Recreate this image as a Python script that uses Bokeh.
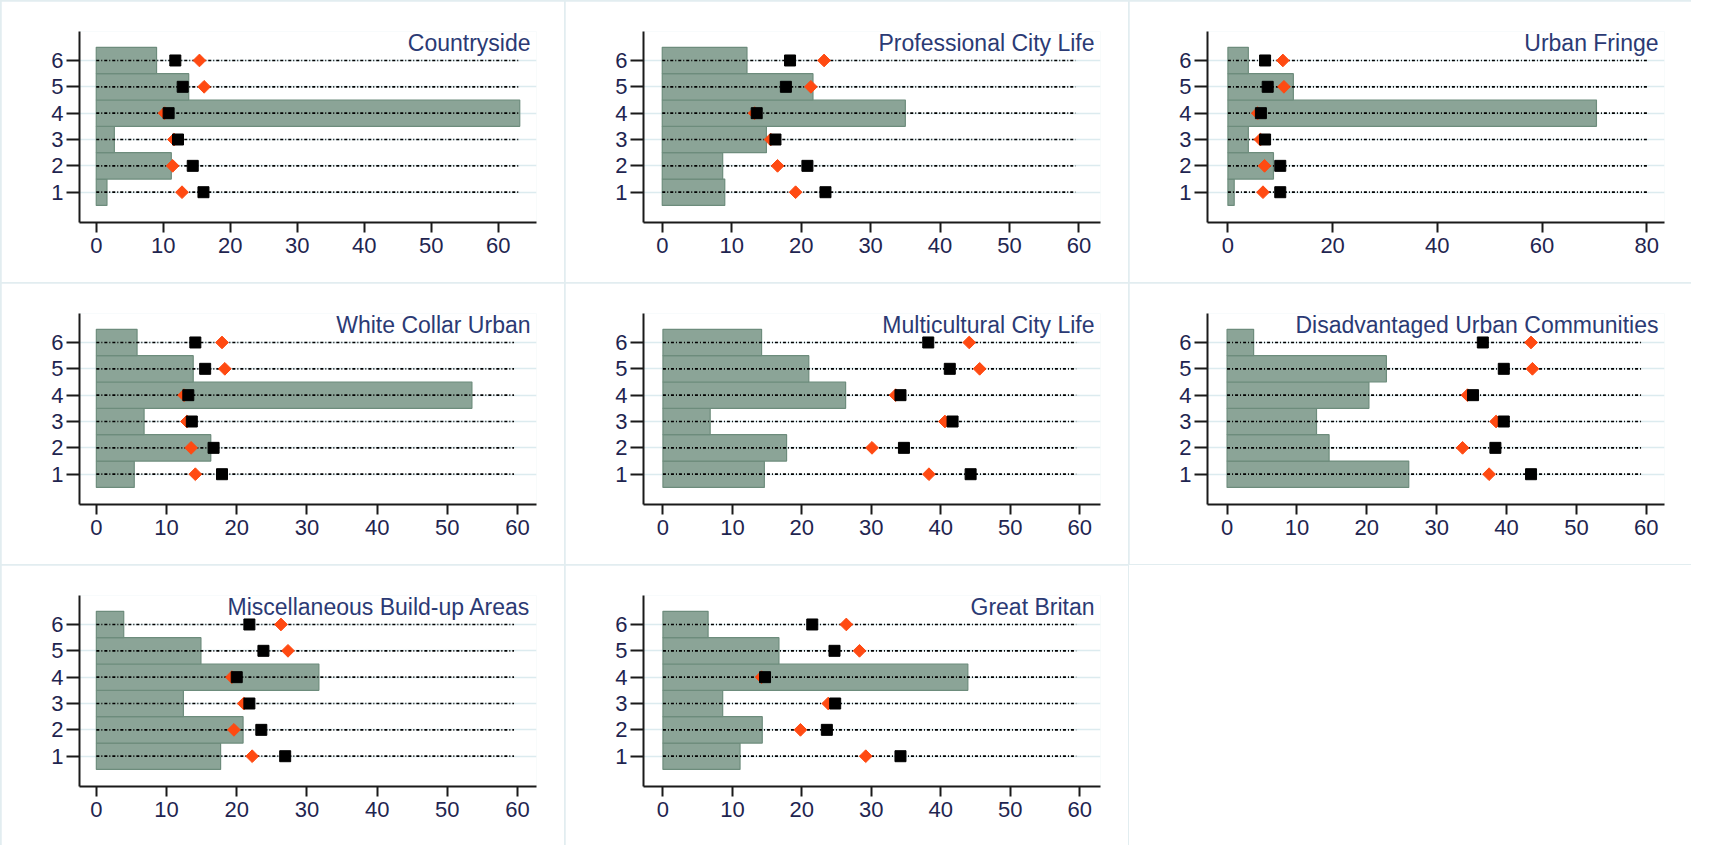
import math
from bokeh.plotting import figure
from bokeh.models import (Range1d, FixedTicker, Label, GridPlot, Spacer, ColumnDataSource)
from bokeh.embed import file_html
from bokeh.resources import INLINE

# ---------------- data ----------------
categories = [1, 2, 3, 4, 5, 6]

titles = ["Countryside", "Professional City Life", "Urban Fringe",
          "White Collar Urban", "Multicultural City Life",
          "Disadvantaged Urban Communities", "Miscellaneous Build-up Areas",
          "Great Britan"]

countryside_bar = [1.6, 11.2, 2.7, 63.2, 13.8, 9.0]
countryside_sq = [16.0, 14.4, 12.2, 10.8, 12.9, 11.8]
countryside_dm = [12.8, 11.4, 11.6, 10.2, 16.1, 15.4]

professional_bar = [9.0, 8.7, 15.0, 35.0, 21.7, 12.2]
professional_sq = [23.5, 20.9, 16.3, 13.6, 17.8, 18.4]
professional_dm = [19.2, 16.6, 15.6, 13.3, 21.4, 23.3]

fringe_bar = [1.2, 8.7, 3.9, 70.4, 12.5, 3.9]
fringe_sq = [10.0, 10.0, 7.1, 6.3, 7.6, 7.1]
fringe_dm = [6.7, 7.0, 6.2, 5.7, 10.7, 10.5]

whitecollar_bar = [5.4, 16.3, 6.8, 53.5, 13.8, 5.8]
whitecollar_sq = [17.9, 16.7, 13.6, 13.1, 15.5, 14.1]
whitecollar_dm = [14.1, 13.5, 12.9, 12.5, 18.3, 17.9]

multicultural_bar = [14.6, 17.8, 6.8, 26.3, 21.0, 14.2]
multicultural_sq = [44.3, 34.7, 41.7, 34.2, 41.3, 38.2]
multicultural_dm = [38.3, 30.1, 40.6, 33.5, 45.6, 44.1]

disadvantaged_bar = [26.0, 14.6, 12.8, 20.3, 22.8, 3.8]
disadvantaged_sq = [43.5, 38.4, 39.6, 35.2, 39.6, 36.6]
disadvantaged_dm = [37.5, 33.7, 38.5, 34.4, 43.7, 43.5]

misc_bar = [17.7, 20.9, 12.4, 31.7, 14.9, 3.9]
misc_sq = [26.9, 23.5, 21.8, 20.0, 23.8, 21.8]
misc_dm = [22.2, 19.6, 21.0, 19.3, 27.3, 26.3]

gb_bar = [11.1, 14.3, 8.6, 43.9, 16.7, 6.5]
gb_sq = [34.2, 23.6, 24.8, 14.7, 24.7, 21.5]
gb_dm = [29.2, 19.8, 23.8, 14.2, 28.3, 26.4]

line_end = [63.2, 59.5, 80.2, 59.5, 59.5, 59.4, 59.5, 59.5]

x_ticks_60 = [0, 10, 20, 30, 40, 50, 60]
x_ticks_80 = [0, 20, 40, 60, 80]

# ---------------- layout / style ----------------
bars = [countryside_bar, professional_bar, fringe_bar, whitecollar_bar,
        multicultural_bar, disadvantaged_bar, misc_bar, gb_bar]
squares = [countryside_sq, professional_sq, fringe_sq, whitecollar_sq,
           multicultural_sq, disadvantaged_sq, misc_sq, gb_sq]
diamonds = [countryside_dm, professional_dm, fringe_dm, whitecollar_dm,
            multicultural_dm, disadvantaged_dm, misc_dm, gb_dm]
x_ranges = [(-2.5, 65.7), (-2.7, 63.1), (-3.9, 83.4), (-2.4, 62.7),
            (-2.8, 63.0), (-2.8, 62.6), (-2.4, 62.7), (-2.8, 63.0)]
x_tick_sets = [x_ticks_60, x_ticks_60, x_ticks_80, x_ticks_60,
               x_ticks_60, x_ticks_60, x_ticks_60, x_ticks_60]

W, H = 563, 281
FONT = "Liberation Sans"
BAR_FILL = "#8ba497"
BAR_LINE = "#6d8c7c"
DIAMOND = "#ff4a12"
TICK_TXT = "#1f2550"
TITLE_TXT = "#2b3a74"
SEP = "#e2edf0"


def make_panel(i):
    p = figure(width=W, height=H, output_backend="svg", toolbar_location=None,
               x_range=Range1d(*x_ranges[i]), y_range=Range1d(-0.15, 7.1),
               min_border_left=78, min_border_right=28,
               min_border_top=30, min_border_bottom=60)
    p.outline_line_color = None
    p.background_fill_color = "white"
    p.border_fill_color = "white"

    n = len(categories)
    src = ColumnDataSource(dict(
        y=categories, bar=bars[i], sq=squares[i], dm=diamonds[i],
        x0=[0] * n, x1=[line_end[i]] * n))

    p.hbar(y="y", left=0, right="bar", height=1.0, source=src,
           fill_color=BAR_FILL, line_color=BAR_LINE, line_width=1.2)
    p.segment(x0="x0", y0="y", x1="x1", y1="y", source=src,
              line_color="black", line_width=1.7, line_dash="3 2 1 2")
    p.scatter(x="dm", y="y", source=src, marker="square", angle=math.pi / 4,
              size=9, fill_color=DIAMOND, line_color=DIAMOND)
    p.scatter(x="sq", y="y", source=src, marker="square", size=11,
              fill_color="black", line_color="black")

    # grid
    p.xgrid.visible = False
    p.ygrid.ticker = FixedTicker(ticks=categories)
    p.ygrid.grid_line_color = "#dcebef"
    p.ygrid.grid_line_width = 1.5

    # axes
    p.xaxis.ticker = FixedTicker(ticks=x_tick_sets[i])
    p.yaxis.ticker = FixedTicker(ticks=categories)
    for ax in (p.xaxis, p.yaxis):
        ax.axis_line_color = "#1a1a1a"
        ax.axis_line_width = 2
        ax.major_tick_line_color = "#1a1a1a"
        ax.major_tick_line_width = 2
        ax.major_tick_in = 0
        ax.minor_tick_line_color = None
        ax.major_label_text_font = FONT
        ax.major_label_text_font_size = "22px"
        ax.major_label_text_color = TICK_TXT
    p.xaxis.major_tick_out = 10
    p.xaxis.major_label_standoff = 5
    p.yaxis.major_tick_out = 13
    p.yaxis.major_label_standoff = 3

    p.add_layout(Label(x=x_ranges[i][1], y=7.1, x_offset=-6, y_offset=-11,
                       text=titles[i], text_align="right",
                       text_baseline="alphabetic", text_font=FONT,
                       text_font_size="23px", text_color=TITLE_TXT))
    return p


panels = [make_panel(i) for i in range(len(titles))]
blank = Spacer(width=W, height=H, styles={"background-color": "white"})

children = []
for k, pnl in enumerate(panels):
    children.append((pnl, k // 3, k % 3))
children.append((blank, 2, 2))

grid = GridPlot(children=children, toolbar_location=None, spacing=1,
                width=3 * W + 2, height=3 * H + 2,
                styles={"background-color": SEP, "border": f"1px solid {SEP}"})

open("out.html", "w").write(file_html(grid, INLINE))
